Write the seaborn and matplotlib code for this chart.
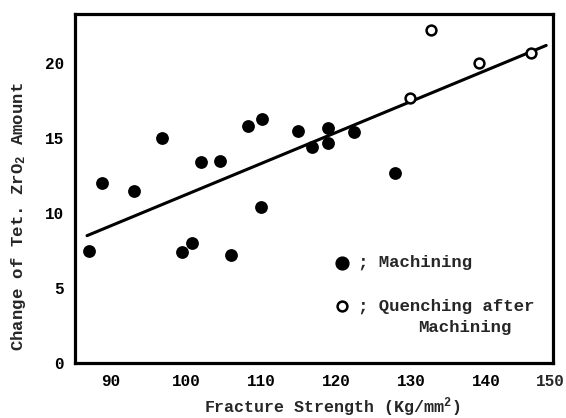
import matplotlib
matplotlib.use("Agg")
import matplotlib.pyplot as plt
import matplotlib.transforms as mtransforms
import seaborn as sns
import pandas as pd

# Data
mach_strength = [87.1, 88.8, 93.1, 96.8, 99.4, 100.8, 102.0, 104.5, 106.0, 108.2,
                 109.9, 110.1, 114.9, 116.8, 118.9, 118.9, 122.3, 127.8]
mach_change = [7.5, 12.0, 11.5, 15.0, 7.4, 8.0, 13.4, 13.5, 7.2, 15.8,
               10.4, 16.3, 15.5, 14.4, 15.7, 14.7, 15.4, 12.7]
quench_strength = [129.8, 132.6, 139.0, 145.9]
quench_change = [17.7, 22.2, 20.0, 20.7]
fit_strength = [86.8, 147.9]
fit_change = [8.5, 21.2]
x_ticks = [90, 100, 110, 120, 130, 140]
y_ticks = [0, 5, 10, 15, 20]

sns.set_theme(style="white")
plt.rcParams['font.family'] = ['Liberation Mono', 'DejaVu Sans Mono']
plt.rcParams['font.weight'] = 'bold'
plt.rcParams['mathtext.default'] = 'regular'

fig = plt.figure(figsize=(5.66, 4.18), dpi=100)
ax = fig.add_axes([0.1325, 0.1316, 0.8445, 0.835])

df_m = pd.DataFrame({"s": mach_strength, "c": mach_change})
df_q = pd.DataFrame({"s": quench_strength, "c": quench_change})
df_f = pd.DataFrame({"s": fit_strength, "c": fit_change})

sns.lineplot(data=df_f, x="s", y="c", ax=ax, color="black", linewidth=2.2, zorder=2)
sns.scatterplot(data=df_m, x="s", y="c", ax=ax, color="black", s=85,
                edgecolor="black", linewidth=0, zorder=3)
sns.scatterplot(data=df_q, x="s", y="c", ax=ax, facecolor="white", s=50,
                edgecolor="black", linewidth=1.8, zorder=3)

ax.set_xlim(85.2, 148.8)
ax.set_ylim(0, 23.3)
ax.set_xticks(x_ticks)
ax.set_yticks(y_ticks)
ax.tick_params(axis="both", direction="in", length=5, width=2, labelsize=11.5,
               colors="black", pad=8)
for lab in ax.get_xticklabels() + ax.get_yticklabels():
    lab.set_fontweight("bold")
for sp in ax.spines.values():
    sp.set_linewidth(2.3)
    sp.set_color("black")

# the "150" tick label sits just past the right spine, near the figure edge
trans = mtransforms.blended_transform_factory(fig.transFigure, ax.transAxes)
t150 = ax.text(565 / 566, 0, "150", ha="right", va="top", fontsize=11.5,
               fontweight="bold", clip_on=False)
t150.set_transform(trans + mtransforms.ScaledTranslation(0, -8 / 72, fig.dpi_scale_trans))

ax.set_xlabel("Fracture Strength (Kg/mm$^2$)", fontsize=12, fontweight="bold")
ax.set_ylabel("Change of Tet. ZrO$_2$ Amount", fontsize=12.5, fontweight="bold")
ax.xaxis.set_label_coords(0.537, -0.093)
ax.yaxis.set_label_coords(-0.098, 0.42)

# legend drawn as in the reference
leg_fs = 12.5
ax.scatter([120.7], [6.7], s=85, color="black", zorder=3)
ax.text(122.9, 6.7, "; Machining", fontsize=leg_fs, fontweight="bold", va="center")
ax.scatter([120.7], [3.8], s=50, facecolor="white", edgecolor="black", linewidth=1.8, zorder=3)
ax.text(122.9, 3.8, "; Quenching after", fontsize=leg_fs, fontweight="bold", va="center")
ax.text(130.8, 2.4, "Machining", fontsize=leg_fs, fontweight="bold", va="center")

fig.savefig("out.png", dpi=100)
